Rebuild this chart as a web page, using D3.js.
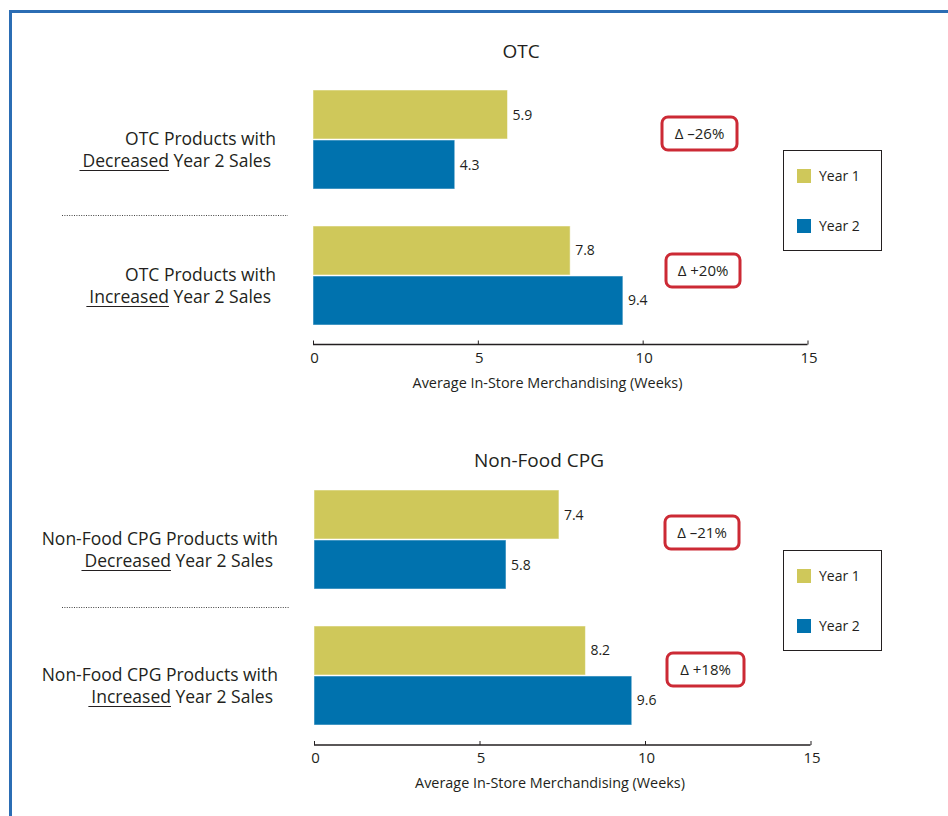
<!DOCTYPE html>
<html>
<head>
<meta charset="utf-8">
<script src="https://cdn.jsdelivr.net/npm/d3@7"></script>
<style>
  html, body { margin: 0; padding: 0; background: #fff; }
  svg { display: block; font-family: "Open Sans", "Noto Sans", sans-serif; }
</style>
</head>
<body>
<svg id="chart" width="948" height="816"></svg>
<script>
// Chart data
const panelTitles = ["OTC", "Non-Food CPG"];
const categories = ["Decreased", "Increased"];
const labelLead = ["OTC Products with", "Non-Food CPG Products with"];
const labelTail = " Year 2 Sales";
const seriesNames = ["Year 1", "Year 2"];
const year1Values = [[5.9, 7.8], [7.4, 8.2]];
const year2Values = [[4.3, 9.4], [5.8, 9.6]];
const deltaLabels = [["\u0394 \u201326%", "\u0394 +20%"], ["\u0394 \u201321%", "\u0394 +18%"]];
const xTicks = [0, 5, 10, 15];
const axisTitle = "Average In-Store Merchandising (Weeks)";

const colors = { "Year 1": "#cfc85a", "Year 2": "#0072ae" };
const deltaRed = "#cc2a35";
const textColor = "#231f20";

const svg = d3.select("#chart");

// Page frame (blue rule along top and left)
svg.append("path")
  .attr("d", "M10.5,816 L10.5,11.5 L948,11.5")
  .attr("fill", "none")
  .attr("stroke", "#2b6db4")
  .attr("stroke-width", 3);

// Layout for each panel
const panels = [
  { top: 90, bottom: 325, axisY: 344.5, x0: 313, x1: 807.5, titleX: 521, titleY: 58,
    labelRight: 276, sepY: 215.5, sepX: [62, 288], axisTitleX: 547.5,
    deltas: [{ x: 662, y: 117, w: 75 }, { x: 666, y: 254, w: 74 }],
    legend: { x: 783, y: 150 } },
  { top: 490, bottom: 725, axisY: 745, x0: 314, x1: 810.5, titleX: 539, titleY: 467,
    labelRight: 278, sepY: 607.5, sepX: [62, 289], axisTitleX: 550,
    deltas: [{ x: 665, y: 516, w: 74 }, { x: 667, y: 653, w: 77 }],
    legend: { x: 783, y: 550 } }
];

panels.forEach((p, pi) => {
  const g = svg.append("g");

  const x = d3.scaleLinear().domain([0, 15]).range([p.x0, p.x1]);
  const y = d3.scaleBand().domain(categories).range([p.top, p.bottom]).paddingInner(0.272);
  const ySub = d3.scaleBand().domain(seriesNames).range([0, y.bandwidth()]).paddingInner(0.02);

  // Title
  g.append("text")
    .attr("x", p.titleX).attr("y", p.titleY)
    .attr("text-anchor", "middle")
    .attr("font-size", 19).attr("fill", textColor)
    .text(panelTitles[pi]);

  // Bars
  const rows = categories.map((c, ci) => ({
    cat: c,
    vals: [
      { name: "Year 1", v: year1Values[pi][ci] },
      { name: "Year 2", v: year2Values[pi][ci] }
    ]
  }));

  const rowG = g.selectAll(".row").data(rows).join("g")
    .attr("transform", d => `translate(0,${y(d.cat)})`);

  rowG.selectAll("rect").data(d => d.vals).join("rect")
    .attr("x", x(0))
    .attr("y", d => ySub(d.name))
    .attr("width", d => x(d.v) - x(0))
    .attr("height", ySub.bandwidth())
    .attr("fill", d => colors[d.name])
    .attr("stroke", "#ffffff")
    .attr("stroke-opacity", 0.5)
    .attr("stroke-width", 1);

  rowG.selectAll("text.val").data(d => d.vals).join("text")
    .attr("class", "val")
    .attr("x", d => x(d.v) + 5)
    .attr("y", d => ySub(d.name) + ySub.bandwidth() / 2 + 5)
    .attr("font-size", 14).attr("fill", textColor)
    .text(d => d.v.toFixed(1));

  // Category labels with underlined keyword
  categories.forEach((c, ci) => {
    const cy = y(c) + y.bandwidth() / 2;
    g.append("text")
      .attr("x", p.labelRight).attr("y", cy + 5.5)
      .attr("text-anchor", "end")
      .attr("font-size", 17.5).attr("fill", textColor)
      .text(labelLead[pi]);
    const t2 = g.append("text")
      .attr("x", p.labelRight - 5).attr("y", cy + 27.5)
      .attr("text-anchor", "end")
      .attr("font-size", 17.5).attr("fill", textColor);
    t2.append("tspan").text(c);
    t2.append("tspan").text(labelTail);
    const node = t2.node();
    const sx = node.getStartPositionOfChar(0).x;
    const ex = node.getEndPositionOfChar(c.length - 1).x;
    g.append("line")
      .attr("x1", sx - 3).attr("x2", ex)
      .attr("y1", cy + 31).attr("y2", cy + 31)
      .attr("stroke", textColor).attr("stroke-width", 1.2);
  });

  // Dotted separator between the two groups
  g.append("line")
    .attr("x1", p.sepX[0]).attr("x2", p.sepX[1])
    .attr("y1", p.sepY).attr("y2", p.sepY)
    .attr("stroke", "#444").attr("stroke-width", 1)
    .attr("stroke-dasharray", "1,1.4");

  // X axis
  const axis = g.append("g")
    .attr("transform", `translate(0,${p.axisY})`)
    .call(d3.axisBottom(x).tickValues(xTicks).tickSize(-4).tickSizeOuter(0).tickPadding(0).tickFormat(d3.format("d")));
  axis.select(".domain").attr("stroke", textColor).attr("stroke-width", 1.3).attr("d", `M${p.x0},0H${p.x1}`);
  axis.selectAll(".tick line").attr("y2", -4).attr("stroke", textColor);
  axis.selectAll(".tick text")
    .attr("y", 18).attr("dy", 0).attr("dx", 1)
    .attr("font-size", 15).attr("font-family", "\"Open Sans\", sans-serif").attr("fill", textColor);

  g.append("text")
    .attr("x", p.axisTitleX).attr("y", p.axisY + 43)
    .attr("text-anchor", "middle")
    .attr("font-size", 14.4).attr("fill", textColor)
    .text(axisTitle);

  // Change annotations
  categories.forEach((c, ci) => {
    const d = p.deltas[ci];
    g.append("rect")
      .attr("x", d.x).attr("y", d.y).attr("width", d.w).attr("height", 33)
      .attr("rx", 6).attr("ry", 6)
      .attr("fill", "#fff").attr("stroke", deltaRed).attr("stroke-width", 3);
    g.append("text")
      .attr("x", d.x + d.w / 2).attr("y", d.y + 22)
      .attr("text-anchor", "middle")
      .attr("font-size", 15).attr("fill", textColor)
      .text(deltaLabels[pi][ci]);
  });

  // Legend
  const lg = g.append("g").attr("transform", `translate(${p.legend.x},${p.legend.y})`);
  lg.append("rect")
    .attr("x", 0.5).attr("y", 0.5).attr("width", 98).attr("height", 100)
    .attr("fill", "#fff").attr("stroke", textColor).attr("stroke-width", 1);
  seriesNames.forEach((s, si) => {
    lg.append("rect")
      .attr("x", 14).attr("y", 19 + si * 50).attr("width", 14).attr("height", 14)
      .attr("fill", colors[s]);
    lg.append("text")
      .attr("x", 36).attr("y", 31 + si * 50)
      .attr("font-size", 14).attr("fill", textColor)
      .text(s);
  });
});
</script>
</body>
</html>
